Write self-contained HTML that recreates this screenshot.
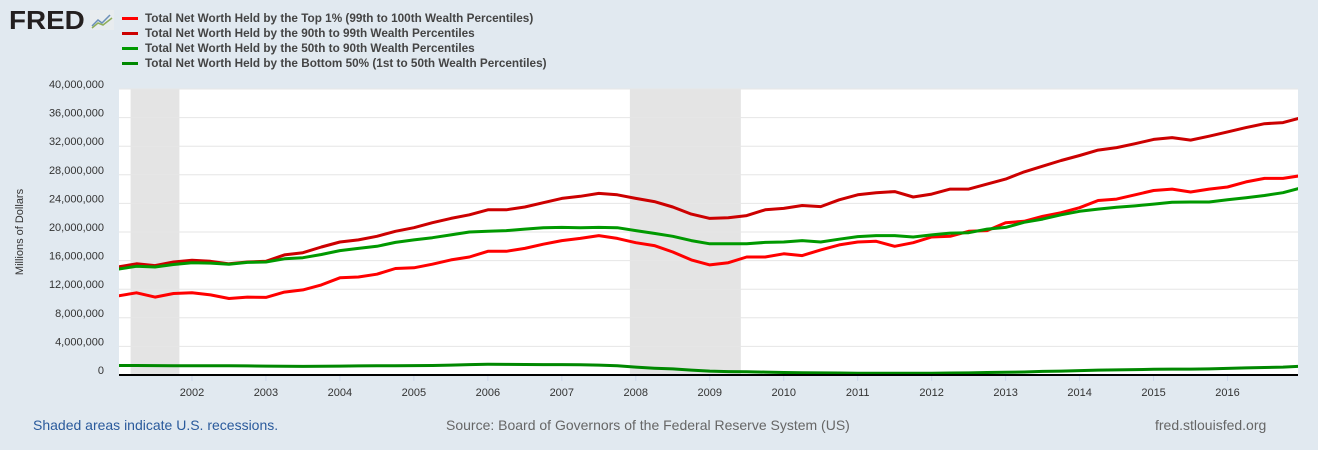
<!DOCTYPE html>
<html><head><meta charset="utf-8"><style>
body{margin:0;width:1318px;height:450px;background:#e1e9f0;font-family:"Liberation Sans",sans-serif;overflow:hidden;position:relative}
.lg{position:absolute;left:122px;font-size:11.75px;font-weight:bold;color:#444}
.lg span{display:inline-block;width:16px;height:3px;margin-right:7px;vertical-align:middle}
.ft{position:absolute;top:417px;font-size:14px}
</style></head><body>
<div style="position:absolute;left:9px;top:5px;font-size:26px;font-weight:900;color:#231f20;letter-spacing:0px;transform:scaleX(1.07);transform-origin:left top;font-family:'Liberation Sans',sans-serif">FRED</div>
<svg style="position:absolute;left:90px;top:10px" width="24" height="20"><rect width="24" height="20" fill="#e8ecef"/><polyline points="2,16 8,10 12,13 20,5" fill="none" stroke="#6b8fb8" stroke-width="1.5"/><polyline points="2,18 8,13 13,15 22,8" fill="none" stroke="#8fae5a" stroke-width="1.5"/></svg>
<div class="lg" style="top:12px"><span style="background:#ff0000"></span>Total Net Worth Held by the Top 1% (99th to 100th Wealth Percentiles)</div>
<div class="lg" style="top:27px"><span style="background:#cc0000"></span>Total Net Worth Held by the 90th to 99th Wealth Percentiles</div>
<div class="lg" style="top:42px"><span style="background:#009900"></span>Total Net Worth Held by the 50th to 90th Wealth Percentiles</div>
<div class="lg" style="top:57px"><span style="background:#008800"></span>Total Net Worth Held by the Bottom 50% (1st to 50th Wealth Percentiles)</div>
<svg id="ch" width="1318" height="450" style="position:absolute;left:0;top:0"><defs><clipPath id="cp"><rect x="119" y="80" width="1179" height="300"/></clipPath></defs></svg>
<div class="ft" style="left:33px;color:#2a5a9c">Shaded areas indicate U.S. recessions.</div>
<div class="ft" style="left:446px;color:#666">Source: Board of Governors of the Federal Reserve System (US)</div>
<div class="ft" style="left:1155px;color:#666">fred.stlouisfed.org</div>
<script>
const yTicks=[0,4,8,12,16,20,24,28,32,36,40];
const xYears=[2002,2003,2004,2005,2006,2007,2008,2009,2010,2011,2012,2013,2014,2015,2016];
const recessions=[[2001.17,2001.83],[2007.92,2009.42]];
const startYear=2001;
const top1=[11.06,11.5,10.9,11.4,11.5,11.2,10.7,10.9,10.85,11.6,11.9,12.6,13.6,13.7,14.1,14.9,15.0,15.5,16.1,16.5,17.3,17.3,17.7,18.3,18.8,19.1,19.5,19.1,18.5,18.1,17.2,16.1,15.4,15.7,16.5,16.5,16.95,16.7,17.5,18.2,18.6,18.7,18.0,18.5,19.3,19.4,20.1,20.2,21.3,21.5,22.2,22.7,23.4,24.4,24.6,25.2,25.8,26.0,25.6,26.0,26.3,27.0,27.5,27.5,27.9];
const p90_99=[15.1,15.55,15.3,15.8,16.05,15.9,15.55,15.8,15.9,16.8,17.1,17.9,18.6,18.9,19.4,20.1,20.6,21.3,21.9,22.4,23.1,23.1,23.5,24.1,24.7,25.0,25.4,25.2,24.7,24.25,23.5,22.5,21.9,22.0,22.3,23.1,23.3,23.7,23.55,24.5,25.2,25.5,25.65,24.9,25.3,26.0,26.0,26.7,27.4,28.4,29.2,30.0,30.7,31.45,31.8,32.35,32.95,33.2,32.85,33.4,34.0,34.6,35.15,35.3,36.0];
const p50_90=[14.8,15.2,15.1,15.45,15.7,15.65,15.5,15.75,15.8,16.25,16.4,16.85,17.4,17.7,18.0,18.55,18.9,19.2,19.6,20.0,20.1,20.2,20.4,20.6,20.65,20.6,20.65,20.6,20.2,19.8,19.4,18.8,18.35,18.35,18.35,18.55,18.6,18.8,18.6,19.0,19.35,19.5,19.5,19.3,19.6,19.85,19.9,20.4,20.65,21.35,21.8,22.4,22.9,23.2,23.45,23.65,23.9,24.15,24.2,24.2,24.5,24.8,25.1,25.5,26.2];
const bottom50=[1.33,1.33,1.32,1.3,1.3,1.3,1.28,1.27,1.25,1.22,1.2,1.22,1.25,1.27,1.28,1.3,1.32,1.33,1.38,1.45,1.5,1.48,1.47,1.46,1.45,1.42,1.38,1.3,1.1,0.95,0.85,0.68,0.55,0.48,0.45,0.4,0.35,0.32,0.3,0.28,0.25,0.25,0.25,0.24,0.25,0.28,0.3,0.35,0.38,0.42,0.5,0.55,0.62,0.68,0.72,0.76,0.8,0.82,0.83,0.85,0.92,1.0,1.05,1.1,1.23];
const L=119,R=1298,T=89,B=375;
const xs=y=>118+(y-startYear)*73.97;
const ys=v=>B-v*(B-T)/40;
const svg=document.getElementById('ch');const NS='http://www.w3.org/2000/svg';
function mk(t,a){const e=document.createElementNS(NS,t);for(const k in a)e.setAttribute(k,a[k]);svg.appendChild(e);return e;}
let bg=mk('rect',{x:L,y:T,width:R-L,height:B-T,fill:'#fff'});


recessions.forEach(r=>{const e=mk('rect',{x:xs(r[0]),y:T,width:xs(r[1])-xs(r[0]),height:B-T,fill:'#e4e4e4'});

});
yTicks.forEach(v=>{if(v>0){const g=mk('line',{x1:L,x2:R,y1:ys(v),y2:ys(v),stroke:'#e6e6e6','stroke-width':1});

}
const t=mk('text',{x:104,y:ys(v)-1,'text-anchor':'end','font-size':11,fill:'#333'});t.textContent=(v*1000000).toLocaleString('en-US');

});
xYears.forEach(yr=>{const x=xs(yr);mk('line',{x1:x,x2:x,y1:B,y2:B+6,stroke:'#ccd6eb'});
const t=mk('text',{x:x,y:396,'text-anchor':'middle','font-size':11,fill:'#333'});t.textContent=yr;

});
const at=mk('text',{transform:'translate(23,232) rotate(-90)','text-anchor':'middle','font-size':11,fill:'#333'});at.textContent='Millions of Dollars';


[[top1,'#ff0000','series-top1'],[p90_99,'#cc0000','series-90-99'],[p50_90,'#009900','series-50-90'],[bottom50,'#008800','series-bottom50']].forEach(s=>{
const pts=s[0].map((v,i)=>xs(startYear+i/4).toFixed(1)+','+ys(v).toFixed(1)).join(' ');
const p=mk('polyline',{points:pts,fill:'none',stroke:s[1],'stroke-width':3,'stroke-linejoin':'round','clip-path':'url(#cp)'});

});
const ax=mk('line',{x1:L,x2:R,y1:B,y2:B,stroke:'#000','stroke-width':2});


</script>
</body></html>
